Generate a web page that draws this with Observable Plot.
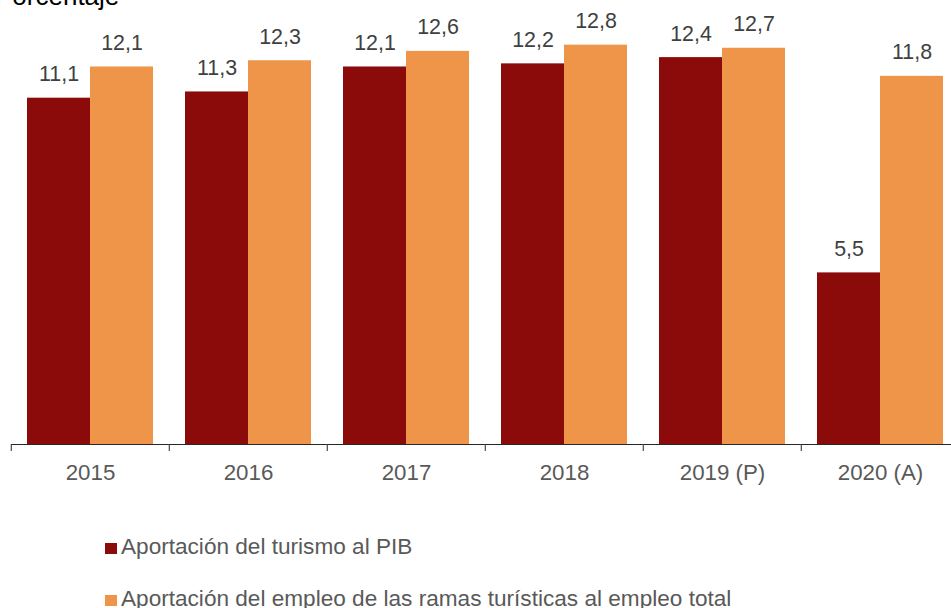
<!DOCTYPE html>
<html>
<head>
<meta charset="utf-8">
<script src="https://cdn.jsdelivr.net/npm/d3@7"></script>
<script src="https://cdn.jsdelivr.net/npm/@observablehq/plot@0.6"></script>
<style>
  html, body { margin: 0; padding: 0; background: #fff; overflow: hidden; }
  body { font-family: "Liberation Sans", Arial, sans-serif; }
  #wrap { position: relative; width: 951px; height: 608px; overflow: hidden; }
  #title { position: absolute; left: -5px; top: -17px; font-size: 26px; line-height: 26px; color: #000; white-space: nowrap; }
  .sw { position: absolute; width: 12px; height: 11px; }
  .lt { position: absolute; font-size: 22.6px; line-height: 22.6px; color: #595959; white-space: nowrap; }
</style>
</head>
<body>
<div id="wrap">
  <div id="chart"></div>
  <div id="title">Porcentaje</div>
  <div id="legend"></div>
</div>
<script>
const years = ["2015", "2016", "2017", "2018", "2019 (P)", "2020 (A)"];
const series = ["Aportación del turismo al PIB", "Aportación del empleo de las ramas turísticas al empleo total"];
const pib = [11.1, 11.3, 12.1, 12.2, 12.4, 5.5];
const empleo = [12.1, 12.3, 12.6, 12.8, 12.7, 11.8];
const colors = ["#8b0a0a", "#ee9549"];

const data = [];
years.forEach((y, i) => {
  data.push({year: y, serie: series[0], value: pib[i]});
  data.push({year: y, serie: series[1], value: empleo[i]});
});
const fmt = v => d3.format(".1f")(v).replace(".", ",");

const W = 951;
const marginLeft = 10, marginRight = -10;
const step = (W - marginLeft - marginRight) / years.length;

const chart = Plot.plot({
  width: W,
  height: 500,
  marginTop: 7.2,
  marginBottom: 56,
  marginLeft,
  marginRight,
  style: {fontFamily: "Liberation Sans, Arial, sans-serif", background: "transparent", overflow: "visible"},
  fx: {domain: years, paddingInner: 0.2, paddingOuter: 0.1, label: null},
  x: {domain: series, padding: 0, axis: null},
  y: {domain: [0, 14], axis: null},
  color: {domain: series, range: colors},
  marks: [
    Plot.barY(data, {fx: "year", x: "serie", y: "value", fill: "serie"}),
    Plot.ruleY([0], {stroke: "#262626", strokeWidth: 1, insetLeft: -step * 0.1, insetRight: -step * 0.1}),
    Plot.text(data, {fx: "year", x: "serie", y: "value", text: d => fmt(d.value), dy: -17, lineAnchor: "bottom", fontSize: 21.4, fill: "#404040"}),
    Plot.axisFx({anchor: "bottom", tickSize: 0, tickPadding: 20, fontSize: 22.3, fill: "#595959", label: null}),
    Plot.axisFx({anchor: "bottom", tickSize: 7, dx: -step / 2, tickFormat: () => "", stroke: "#262626", label: null})
  ]
});
document.getElementById("chart").appendChild(chart);

const legend = document.getElementById("legend");
const legendTops = [536, 588];
series.forEach((s, i) => {
  const sw = document.createElement("div");
  sw.className = "sw";
  sw.style.left = "105px";
  sw.style.top = (legendTops[i] + 7) + "px";
  sw.style.background = colors[i];
  legend.appendChild(sw);
  const t = document.createElement("div");
  t.className = "lt";
  t.style.left = "121px";
  t.style.top = legendTops[i] + "px";
  t.textContent = s;
  legend.appendChild(t);
});
</script>
</body>
</html>
